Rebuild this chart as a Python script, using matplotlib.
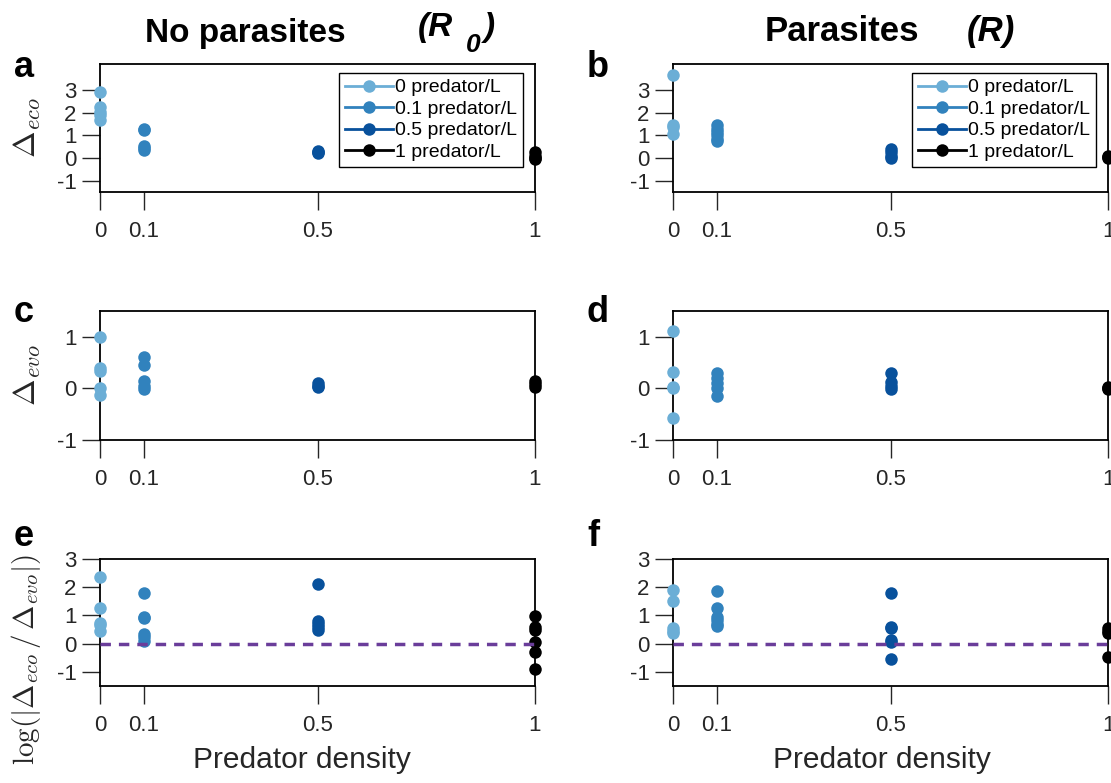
import matplotlib.pyplot as plt
from matplotlib.lines import Line2D

plt.rcParams['font.family'] = ['Liberation Sans', 'DejaVu Sans']
plt.rcParams['mathtext.fontset'] = 'cm'

densities = [0, 0.1, 0.5, 1]
dens_labels = ['0', '0.1', '0.5', '1']
legend_labels = ['0 predator/L', '0.1 predator/L', '0.5 predator/L', '1 predator/L']
colors = ['#6baed6', '#3182bd', '#08519c', '#000000']

# delta_eco, no parasites (a)
eco_r0 = [
    [2.9, 2.25, 2.05, 1.9, 1.7],
    [1.3, 1.25, 0.55, 0.45, 0.35],
    [0.3, 0.25, 0.2],
    [0.25, 0.1, 0.0, -0.05],
]
# delta_eco, parasites (b)
eco_r = [
    [3.65, 1.45, 1.35, 1.05],
    [1.45, 1.3, 1.15, 1.0, 0.85, 0.75],
    [0.4, 0.25, 0.1, 0.0],
    [0.1, 0.05, 0.0],
]
# delta_evo, no parasites (c)
evo_r0 = [
    [1.0, 0.4, 0.33, 0.0, -0.12],
    [0.6, 0.45, 0.15, 0.05, -0.02],
    [0.1, 0.05, 0.02],
    [0.15, 0.08, 0.02],
]
# delta_evo, parasites (d)
evo_r = [
    [1.12, 0.32, 0.03, 0.0, -0.58],
    [0.3, 0.2, 0.1, 0.0, -0.15],
    [0.3, 0.12, 0.05, -0.02],
    [0.03, 0.0, -0.02],
]
# log ratio, no parasites (e)
ratio_r0 = [
    [2.35, 1.25, 0.75, 0.65, 0.45],
    [1.8, 0.95, 0.9, 0.35, 0.25, 0.08],
    [2.1, 0.8, 0.7, 0.6, 0.5],
    [0.97, 0.6, 0.5, 0.05, -0.3, -0.9],
]
# log ratio, parasites (f)
ratio_r = [
    [1.9, 1.5, 0.55, 0.45, 0.38],
    [1.85, 1.25, 0.95, 0.85, 0.7, 0.62],
    [1.78, 0.6, 0.55, 0.12, 0.05, -0.55],
    [0.55, 0.45, 0.38, -0.47],
]

fig = plt.figure(figsize=(11.11, 7.83), dpi=100)

W, H = 1111, 783
col_left = [100, 673]
col_w = 435
rows = [(64, 192), (311, 440), (559, 686)]
letter_base = [77, 322, 546]

panels = [
    [eco_r0, eco_r],
    [evo_r0, evo_r],
    [ratio_r0, ratio_r],
]
ylims = [(-1.5, 4.15), (-1, 1.5), (-1.5, 3)]
yticks = [[-1, 0, 1, 2, 3], [-1, 0, 1], [-1, 0, 1, 2, 3]]
ylabels = [r'$\Delta_{eco}$', r'$\Delta_{evo}$',
           r'$\log(|\Delta_{eco}\,/\,\Delta_{evo}|)$']
ylabel_sizes = [23, 23, 21]
letters = [['a', 'b'], ['c', 'd'], ['e', 'f']]

for r, (top, bot) in enumerate(rows):
    for c in range(2):
        ax = fig.add_axes([col_left[c] / W, 1 - bot / H, col_w / W, (bot - top) / H])
        data = panels[r][c]
        for x, ys, col in zip(densities, data, colors):
            ax.plot([x] * len(ys), ys, 'o', color=col, ms=9, mec='none',
                    clip_on=False, zorder=3)
        if r == 2:
            ax.axhline(0, color='#6a3d9a', lw=2.5, dashes=(3, 2.3), zorder=4)
            ax.set_xlabel('Predator density', fontsize=21.5, color='#262626')
            ax.xaxis.set_label_coords(0.465 if c == 0 else 0.48, -0.47)
        ax.set_xlim(0, 1)
        ax.set_ylim(*ylims[r])
        ax.set_xticks(densities)
        ax.set_xticklabels(dens_labels)
        ax.set_yticks(yticks[r])
        ax.set_yticklabels([str(t) for t in yticks[r]])
        ax.tick_params(direction='out', length=13, width=1, colors='#262626',
                       labelsize=16)
        ax.tick_params(axis='x', pad=8)
        ax.tick_params(axis='y', pad=4)
        for sp in ax.spines.values():
            sp.set_linewidth(1.3)
            sp.set_color('black')
        if c == 0:
            ax.set_ylabel(ylabels[r], fontsize=ylabel_sizes[r], color='#262626')
            ax.yaxis.set_label_coords(-0.13, 0.21 if r == 2 else 0.5)
        fig.text((14 if c == 0 else 587) / W, 1 - letter_base[r] / H, letters[r][c],
                 fontsize=26, fontweight='bold', va='baseline')
        if r == 0:
            handles = [Line2D([], [], color=col, lw=2, marker='o', ms=9, mec='none')
                       for col in colors]
            leg = ax.legend(handles, legend_labels, loc='upper right',
                            bbox_to_anchor=(0.9724, 0.9297), fontsize=14,
                            frameon=True, fancybox=False, edgecolor='black',
                            handlelength=2.5, labelspacing=0.2, borderpad=0.3,
                            handletextpad=0.1, borderaxespad=0, framealpha=1)
            leg.get_frame().set_linewidth(1.0)

fig.text(245 / W, 1 - 42 / H, 'No parasites', fontsize=24, fontweight='bold',
         ha='center', va='baseline')
fig.text(418 / W, 1 - 36 / H, '(R', fontsize=24, fontweight='bold',
         style='italic', va='baseline')
fig.text(466 / W, 1 - 52 / H, '0', fontsize=19, fontweight='bold',
         style='italic', va='baseline')
fig.text(484 / W, 1 - 36 / H, ')', fontsize=24, fontweight='bold',
         style='italic', va='baseline')
fig.text(842 / W, 1 - 41 / H, 'Parasites', fontsize=25, fontweight='bold',
         ha='center', va='baseline')
fig.text(967 / W, 1 - 41 / H, '(R)', fontsize=25, fontweight='bold',
         style='italic', va='baseline')

fig.savefig('out.png', dpi=100)
